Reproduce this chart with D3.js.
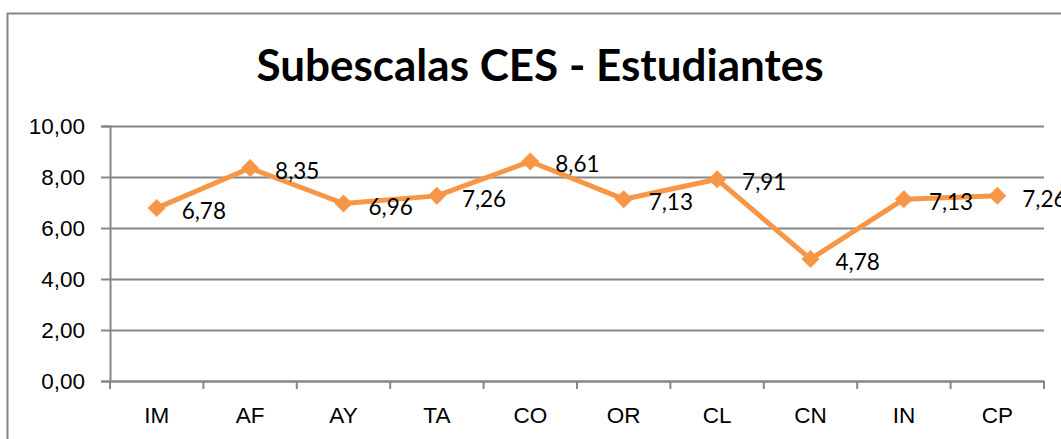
<!DOCTYPE html>
<html>
<head>
<meta charset="utf-8">
<script src="https://cdn.jsdelivr.net/npm/d3@7"></script>
<style>
  html, body { margin: 0; padding: 0; background: #fff; overflow: hidden; }
  svg { display: block; font-family: Lato, "Open Sans", sans-serif; }
</style>
</head>
<body>
<div id="chart"></div>
<script>
const categories = ["IM", "AF", "AY", "TA", "CO", "OR", "CL", "CN", "IN", "CP"];
const values = [6.78, 8.35, 6.96, 7.26, 8.61, 7.13, 7.91, 4.78, 7.13, 7.26];
const yTicks = [0, 2, 4, 6, 8, 10];
const title = "Subescalas CES - Estudiantes";

const width = 1061, height = 439;
const dims = {marginLeft: 110, marginRight: 17, marginTop: 126, marginBottom: 58};
const gray = "#868686";
const orange = "#F79646";
const fmt = v => v.toFixed(2).replace(".", ",");

const svg = d3.select("#chart").append("svg")
    .attr("width", width)
    .attr("height", height);

// outer chart border (continues past the right and bottom edges)
svg.append("rect")
    .attr("x", 7.5).attr("y", 13.5)
    .attr("width", 1200).attr("height", 600)
    .attr("fill", "none")
    .attr("stroke", gray)
    .attr("stroke-width", 2);

svg.append("text")
    .attr("x", 540).attr("y", 81)
    .attr("text-anchor", "middle")
    .style("font-size", "44px")
    .style("font-weight", "bold")
    .text(title);

const x = d3.scaleBand()
    .domain(categories)
    .range([dims.marginLeft, width - dims.marginRight]);

const y = d3.scaleLinear()
    .domain([0, 10])
    .range([height - dims.marginBottom, dims.marginTop]);

// y axis with gridlines
svg.append("g")
    .attr("transform", `translate(${dims.marginLeft},0)`)
    .call(d3.axisLeft(y).tickValues(yTicks).tickFormat(fmt).tickSizeOuter(0).tickPadding(16).tickSize(9))
    .call(g => g.select(".domain").attr("stroke", gray).attr("stroke-width", 2))
    .call(g => g.selectAll(".tick line").attr("stroke", gray).attr("stroke-width", 2))
    .call(g => g.selectAll(".tick text").attr("fill", "#000").style("font-size", "22.5px"))
    .call(g => g.selectAll(".tick").append("line")
        .attr("x1", 0)
        .attr("x2", width - dims.marginRight - dims.marginLeft)
        .attr("stroke", gray)
        .attr("stroke-width", 2));

// x axis, ticks on band boundaries
const xAxis = svg.append("g")
    .attr("transform", `translate(0,${height - dims.marginBottom})`)
    .call(d3.axisBottom(x).tickSize(0).tickPadding(26))
    .call(g => g.select(".domain").attr("stroke", gray).attr("stroke-width", 2))
    .call(g => g.selectAll(".tick text").attr("fill", "#000").style("font-size", "22.5px"));

xAxis.selectAll("line.bound")
    .data(categories.map(c => x(c)).concat([x.range()[1]]))
    .join("line")
    .attr("class", "bound")
    .attr("x1", d => d).attr("x2", d => d)
    .attr("y1", 0).attr("y2", 8)
    .attr("stroke", gray)
    .attr("stroke-width", 2);

const cx = (d, i) => x(categories[i]) + x.bandwidth() / 2;

const line = d3.line()
    .x((d, i) => cx(d, i))
    .y(d => y(d));

svg.append("path")
    .datum(values)
    .attr("fill", "none")
    .attr("stroke", orange)
    .attr("stroke-width", 5)
    .attr("stroke-linejoin", "round")
    .attr("d", line);

svg.selectAll("path.marker")
    .data(values)
    .join("path")
    .attr("class", "marker")
    .attr("transform", (d, i) => `translate(${cx(d, i)},${y(d)})`)
    .attr("d", "M0,-9L9,0L0,9L-9,0Z")
    .attr("fill", orange);

svg.selectAll("text.label")
    .data(values)
    .join("text")
    .attr("class", "label")
    .attr("x", (d, i) => cx(d, i) + 25)
    .attr("y", d => y(d) + 11)
    .style("font-size", "22.5px")
    .attr("fill", "#000")
    .text(fmt);
</script>
</body>
</html>
